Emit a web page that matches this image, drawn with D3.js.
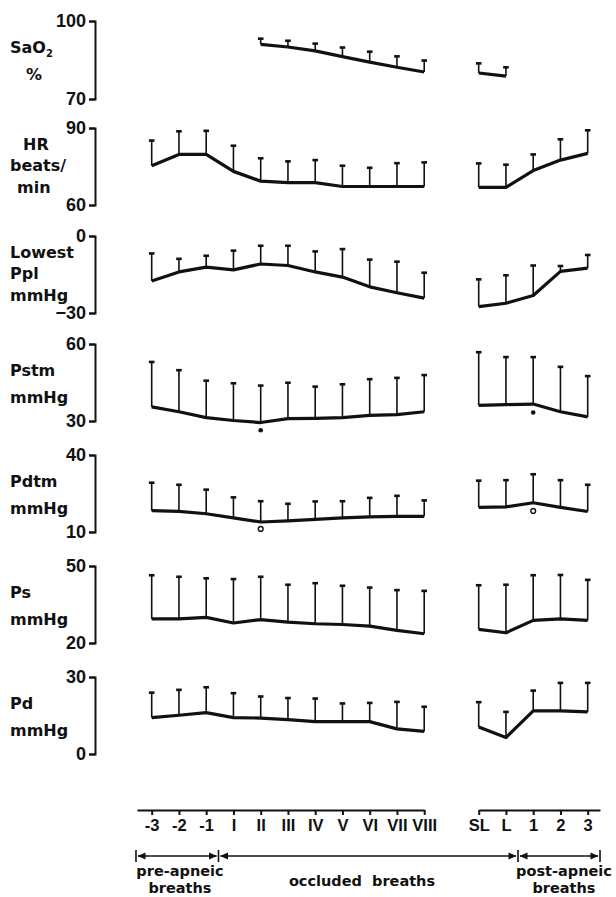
<!DOCTYPE html>
<html lang="en">
<head>
    <meta charset="UTF-8">
    <title>Breath-by-breath values around apnea</title>
    <script src="https://d3js.org/d3.v7.min.js"></script>
    <style>
        body {
            margin: 0;
            background: #fff;
        }
        svg {
            display: block;
            font-family: "DejaVu Sans", sans-serif;
            font-weight: bold;
        }
        .mean-line {
            fill: none;
            stroke: #111;
            stroke-width: 3.2;
            stroke-linejoin: round;
        }
        .sd-bar {
            stroke: #111;
            stroke-width: 1.6;
        }
        .sd-cap {
            stroke: #111;
            stroke-width: 2.6;
        }
        .y-axis path, .y-axis line, .x-axis path, .x-axis line {
            stroke: #111;
            stroke-width: 2;
        }
        .y-axis text {
            font-size: 18px;
            font-weight: bold;
            fill: #111;
        }
        .x-axis text {
            font-size: 16.5px;
            font-weight: bold;
            fill: #111;
        }
        .title {
            font-size: 16px;
            fill: #111;
        }
        .phase {
            font-size: 14.5px;
            fill: #111;
        }
    </style>
</head>
<body>
<svg id="chart" width="616" height="897"></svg>
<script>
    // breath labels; there is a gap between VIII and SL on the axis
    const categories = ["-3", "-2", "-1", "I", "II", "III", "IV", "V", "VI", "VII", "VIII", "SL", "L", "1", "2", "3"];

    // means and SD (upper bar only)
    const sao2Mean = [null, null, null, null, 91.0, 90.0, 88.5, 86.3, 84.2, 82.2, 80.4, 80.0, 78.8, null, null, null];
    const sao2Sd   = [null, null, null, null, 2.2, 2.4, 2.8, 3.5, 4.0, 4.2, 4.4, 3.7, 3.4, null, null, null];

    const hrMean = [75.3, 79.7, 79.7, 73.1, 69.3, 68.7, 68.7, 67.2, 67.2, 67.2, 67.2, 66.9, 66.9, 73.4, 77.5, 80.1];
    const hrSd   = [9.8, 9.0, 9.2, 10.0, 8.9, 8.3, 8.8, 8.1, 7.3, 9.1, 9.4, 9.3, 8.8, 6.3, 8.1, 9.0];

    const pplMean = [-17.5, -14.0, -12.1, -13.2, -10.9, -11.5, -14.0, -16.0, -19.8, -22.1, -24.2, -27.5, -26.2, -23.2, -13.8, -12.5];
    const pplSd   = [10.7, 5.1, 4.4, 7.5, 7.1, 7.7, 8.0, 10.9, 10.6, 12.1, 9.9, 10.6, 10.9, 11.7, 2.1, 5.1];

    const pstmMean = [35.5, 33.6, 31.3, 30.2, 29.4, 30.9, 31.0, 31.3, 32.2, 32.5, 33.6, 36.1, 36.4, 36.6, 33.6, 31.6];
    const pstmSd   = [17.5, 16.2, 14.4, 14.5, 14.4, 14.0, 12.4, 13.0, 14.1, 14.3, 14.3, 20.7, 18.5, 18.3, 17.5, 15.9];

    const pdtmMean = [18.3, 18.0, 17.1, 15.5, 13.9, 14.3, 14.9, 15.5, 15.9, 16.1, 16.1, 19.6, 19.8, 21.4, 19.6, 18.0];
    const pdtmSd   = [10.9, 10.4, 9.4, 8.0, 8.1, 6.7, 7.0, 6.5, 7.4, 8.0, 6.2, 10.4, 10.4, 11.1, 10.6, 10.4];

    const psMean = [29.4, 29.4, 30.0, 27.8, 29.1, 28.1, 27.5, 27.2, 26.6, 24.9, 23.6, 25.3, 24.0, 28.8, 29.4, 28.8];
    const psSd   = [17.0, 16.4, 15.2, 17.1, 16.7, 14.6, 15.8, 15.1, 15.0, 15.7, 16.7, 17.2, 18.7, 17.6, 17.1, 15.8];

    const pdMean = [14.2, 15.1, 16.1, 14.2, 14.0, 13.4, 12.6, 12.6, 12.6, 9.8, 8.8, 10.5, 6.4, 16.8, 16.8, 16.4];
    const pdSd   = [9.7, 9.9, 9.9, 9.5, 8.4, 8.4, 9.0, 7.1, 7.3, 10.5, 9.6, 9.7, 10.0, 7.9, 10.9, 11.3];

    // significance markers below the mean
    const pstmDots    = [{ cat: "II", value: 26.4 }, { cat: "1", value: 33.3 }];
    const pdtmCircles = [{ cat: "II", value: 11.2 }, { cat: "1", value: 18.2 }];

    const phases = [
        { lines: ["pre-apneic", "breaths"] },
        { lines: ["occluded  breaths"] },
        { lines: ["post-apneic", "breaths"] }
    ];

    const panels = [
        { label: ["SaO|2", "%"], domain: [70, 100], mean: sao2Mean, sd: sao2Sd, top: 21, bottom: 99 },
        { label: ["HR", "beats/", "min"], domain: [60, 90], mean: hrMean, sd: hrSd, top: 128, bottom: 205 },
        { label: ["Lowest", "Ppl", "mmHg"], domain: [-30, 0], mean: pplMean, sd: pplSd, top: 236, bottom: 313 },
        { label: ["Pstm", "mmHg"], domain: [30, 60], mean: pstmMean, sd: pstmSd, top: 344, bottom: 421, dots: pstmDots },
        { label: ["Pdtm", "mmHg"], domain: [10, 40], mean: pdtmMean, sd: pdtmSd, top: 455, bottom: 532, circles: pdtmCircles },
        { label: ["Ps", "mmHg"], domain: [20, 50], mean: psMean, sd: psSd, top: 566, bottom: 643 },
        { label: ["Pd", "mmHg"], domain: [0, 30], mean: pdMean, sd: pdSd, top: 677, bottom: 754 }
    ];

    const svg = d3.select("#chart");
    const axisX = 95;

    // slot on the x axis (one empty slot of gap before SL)
    const slotOf = c => {
        const i = categories.indexOf(c);
        return i < 11 ? i : i + 1;
    };
    const x = d3.scaleLinear().domain([0, 16]).range([151.7, 587.7]);
    const xc = c => x(slotOf(c));

    panels.forEach(p => {
        const y = d3.scaleLinear().domain(p.domain).range([p.bottom, p.top]);
        const g = svg.append("g");

        // bracket style y axis
        g.append("g")
            .attr("class", "y-axis")
            .attr("transform", `translate(${axisX},0)`)
            .call(d3.axisLeft(y).tickValues(p.domain).tickSize(6).tickSizeOuter(6).tickPadding(3));

        // title on the left
        const title = g.append("text").attr("class", "title");
        const three = p.label.length === 3;
        const lineGap = three ? 21.5 : 27;
        const firstY = three ? p.top + 21.5 : p.top + 32;
        p.label.forEach((s, k) => {
            let lx = 10;
            if (s === "%") lx = 26;
            if (s === "HR") lx = 23;
            if (s === "min") lx = 17;
            const t = title.append("tspan").attr("x", lx).attr("y", firstY + k * lineGap);
            if (s.includes("|")) {
                const [a, b] = s.split("|");
                t.text(a);
                title.append("tspan").attr("font-size", 10).attr("dy", 4).text(b);
            } else {
                t.text(s);
            }
        });

        const rows = categories.map((c, i) => ({ cat: c, mean: p.mean[i], sd: p.sd[i], seg: i < 11 ? 0 : 1 }))
            .filter(d => d.mean != null);

        // SD bars
        g.selectAll(".sd-bar").data(rows).join("line")
            .attr("class", "sd-bar")
            .attr("x1", d => xc(d.cat)).attr("x2", d => xc(d.cat))
            .attr("y1", d => y(d.mean)).attr("y2", d => y(d.mean + d.sd));
        g.selectAll(".sd-cap").data(rows).join("line")
            .attr("class", "sd-cap")
            .attr("x1", d => xc(d.cat) - 2.8).attr("x2", d => xc(d.cat) + 2.8)
            .attr("y1", d => y(d.mean + d.sd)).attr("y2", d => y(d.mean + d.sd));

        // mean lines, one per segment
        const line = d3.line().x(d => xc(d.cat)).y(d => y(d.mean));
        d3.groups(rows, d => d.seg).forEach(([, seg]) => {
            g.append("path").attr("class", "mean-line").attr("d", line(seg));
        });

        if (p.dots) {
            g.selectAll(".dot").data(p.dots).join("circle")
                .attr("cx", d => xc(d.cat)).attr("cy", d => y(d.value))
                .attr("r", 2.3).attr("fill", "#111");
        }
        if (p.circles) {
            g.selectAll(".ring").data(p.circles).join("circle")
                .attr("cx", d => xc(d.cat)).attr("cy", d => y(d.value))
                .attr("r", 2.4).attr("fill", "none").attr("stroke", "#111").attr("stroke-width", 1.4);
        }
    });

    // bottom category axis, in two pieces
    const axisY = 810;
    const fmt = s => categories[s < 11 ? s : s - 1];
    const xLeft = x.copy().domain([-0.54, 10]).range([x(-0.54), x(10)]);
    const xRight = x.copy().domain([12, 16.45]).range([x(12), x(16.45)]);
    [[xLeft, d3.range(0, 11)], [xRight, d3.range(12, 17)]].forEach(([sc, vals]) => {
        svg.append("g")
            .attr("class", "x-axis")
            .attr("transform", `translate(0,${axisY})`)
            .call(d3.axisBottom(sc).tickValues(vals).tickFormat(fmt).tickSize(5).tickSizeOuter(0).tickPadding(4));
    });

    // phase brackets with arrows
    const arrowY = 856;
    const bounds = [136, 218.5, 518, 600];
    const centers = [180, 362, 564];
    const arrowHead = (xTip, dir) => {
        const len = 8, h = 3.6;
        return `M${xTip},${arrowY} L${xTip - dir * len},${arrowY - h} L${xTip - dir * len},${arrowY + h} Z`;
    };
    phases.forEach((ph, k) => {
        const a = bounds[k], b = bounds[k + 1];
        svg.append("line").attr("x1", a + 2).attr("x2", b - 2).attr("y1", arrowY).attr("y2", arrowY)
            .attr("stroke", "#111").attr("stroke-width", 1.5);
        svg.append("path").attr("d", arrowHead(a + 1.5, -1)).attr("fill", "#111");
        svg.append("path").attr("d", arrowHead(b - 1.5, 1)).attr("fill", "#111");
        const y0 = ph.lines.length === 1 ? 886 : 876;
        ph.lines.forEach((s, j) => {
            svg.append("text").attr("class", "phase").attr("text-anchor", "middle")
                .attr("x", centers[k]).attr("y", y0 + j * 17)
                .attr("xml:space", "preserve").text(s);
        });
    });
    bounds.forEach(b => {
        svg.append("line").attr("x1", b).attr("x2", b).attr("y1", arrowY - 6).attr("y2", arrowY + 6)
            .attr("stroke", "#111").attr("stroke-width", 1.6);
    });
</script>
</body>
</html>
